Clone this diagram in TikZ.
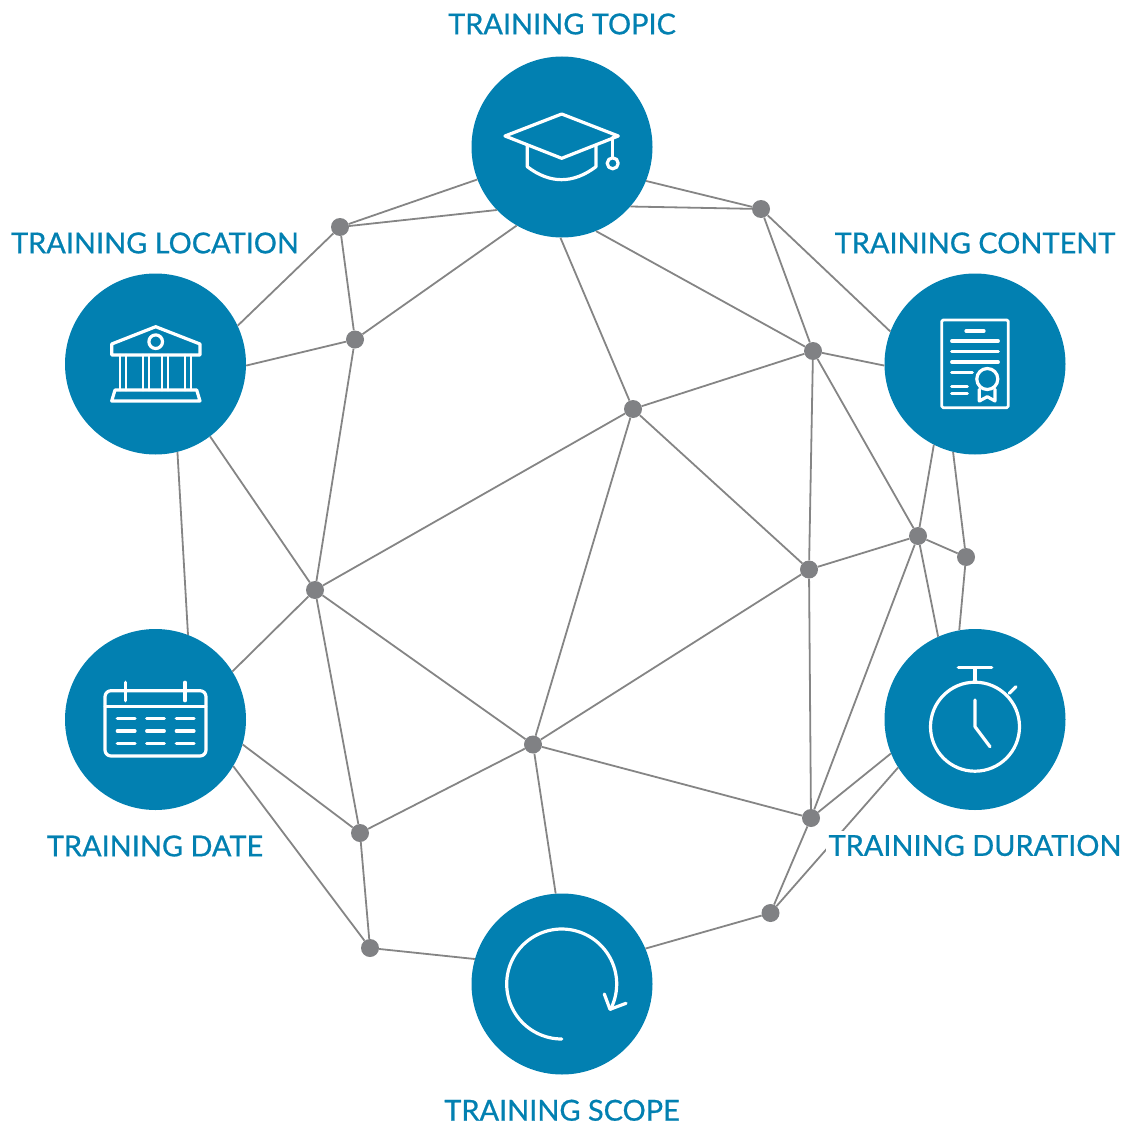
\documentclass[tikz,border=0pt]{standalone}
\usepackage{fontspec}
\setmainfont{Lato}
\newfontfamily\labfont[FakeBold=0.7]{Lato}
\definecolor{tblue}{HTML}{0280B1}
\definecolor{edgegray}{HTML}{858585}
\definecolor{dotgray}{HTML}{808184}
\tikzset{
  hub/.style={circle,fill=tblue,draw=none,minimum size=181pt,inner sep=0pt},
  dot/.style={circle,fill=dotgray,draw=none,minimum size=18pt,inner sep=0pt},
  edge/.style={draw=edgegray,line width=1.8pt},
  icon/.style={draw=white,line width=3.2pt,line cap=round,line join=round},
  thin icon/.style={icon,line width=2.8pt},
  lab/.style={text=tblue,font=\labfont\fontsize{28.9}{30}\selectfont,inner sep=0pt},
}
\begin{document}
\begin{tikzpicture}[x=1pt,y=-1pt]
\useasboundingbox (0,0) rectangle (1133,1124);
% hubs
\node[hub] (T) at (562,147) {};
\node[hub] (C) at (975,364) {};
\node[hub] (L) at (155.5,364) {};
\node[hub] (D) at (155.5,719.5) {};
\node[hub] (U) at (975,719.5) {};
\node[hub] (S) at (562,984) {};
% dots
\node[dot] (a) at (340,227) {};
\node[dot] (b) at (355,339.5) {};
\node[dot] (c) at (761,209) {};
\node[dot] (d) at (813,351) {};
\node[dot] (e) at (633,409) {};
\node[dot] (f) at (918,536) {};
\node[dot] (g) at (966,557) {};
\node[dot] (h) at (809,569.5) {};
\node[dot] (i) at (315,590) {};
\node[dot] (j) at (533,744.5) {};
\node[dot] (k) at (811,818) {};
\node[dot] (l) at (360,833) {};
\node[dot] (m) at (770.5,913) {};
\node[dot] (n) at (370,948) {};
% edges
\draw[edge] (a) -- (T.201.8);
\draw[edge] (a) -- (T.224.5);
\draw[edge] (a) -- (L.25.4);
\draw[edge] (a) -- (b);
\draw[edge] (b) -- (T.240.9);
\draw[edge] (b) -- (L.-1.9);
\draw[edge] (b) -- (i);
\draw[edge] (c) -- (T.-22.9);
\draw[edge] (c) -- (T.-41.4);
\draw[edge] (c) -- (C.159.2);
\draw[edge] (c) -- (d);
\draw[edge] (d) -- (T.-68.9);
\draw[edge] (d) -- (C.181.9);
\draw[edge] (d) -- (e);
\draw[edge] (d) -- (h);
\draw[edge] (d) -- (f);
\draw[edge] (e) -- (T.269.4);
\draw[edge] (e) -- (i);
\draw[edge] (e) -- (j);
\draw[edge] (e) -- (h);
\draw[edge] (f) -- (C.243.7);
\draw[edge] (g) -- (C.256.9);
\draw[edge] (f) -- (g);
\draw[edge] (f) -- (h);
\draw[edge] (f) -- (k);
\draw[edge] (f) -- (U.114.3);
\draw[edge] (g) -- (U.100.9);
\draw[edge] (h) -- (j);
\draw[edge] (h) -- (k);
\draw[edge] (i) -- (L.-53.1);
\draw[edge] (i) -- (D.32.8);
\draw[edge] (i) -- (j);
\draw[edge] (i) -- (l);
\draw[edge] (L.-76.1) -- (D.69.4);
\draw[edge] (j) -- (k);
\draw[edge] (j) -- (l);
\draw[edge] (j) -- (S.94.4);
\draw[edge] (k) -- (U.202);
\draw[edge] (k) -- (m);
\draw[edge] (l) -- (D.-16);
\draw[edge] (l) -- (n);
\draw[edge] (n) -- (D.-31.6);
\draw[edge] (n) -- (S.164.6);
\draw[edge] (m) -- (S.23.4);
\draw[edge] (m) -- (U.212.5);
% labels
\node[lab] (lt) at (562,24) {TRAINING TOPIC};
\node[lab] (lc) at (975,243) {TRAINING CONTENT};
\node[lab] (ll) at (155,243) {TRAINING LOCATION};
\node[lab] (ld) at (155,846) {TRAINING DATE};
\node[lab,fill=white,minimum height=29pt,inner xsep=3pt] (lu) at (975,845.5) {TRAINING DURATION};
\node[lab] (ls) at (562,1110.3) {TRAINING SCOPE};
% icon: cap
\draw[icon] (561.7,114) -- (505,136) -- (561.7,158.3) -- (618.3,136) -- cycle;
\draw[icon] (527.3,145) -- (527.3,166.7) .. controls (550,184) and (573,184) .. (596,166.7) -- (596,145);
\draw[icon] (612.7,137.3) -- (612.7,157.3);
\draw[icon] (612.7,163.3) circle[radius=5.5];
% icon: certificate
\draw[thin icon,rounded corners=1.5pt] (941.7,320) rectangle (1008.3,407.7);
\draw[icon] (966,331) -- (984,331);
\draw[icon] (951.7,341) -- (998.3,341);
\draw[icon] (951.7,351.7) -- (998.3,351.7);
\draw[icon] (951.7,362) -- (998.3,362);
\draw[icon] (951.7,372.3) -- (972.3,372.3);
\draw[icon] (951.7,386.7) -- (967.3,386.7);
\draw[icon] (951.7,393.3) -- (967.3,393.3);
\draw[icon] (987.3,379) circle[radius=10.5];
\draw[icon] (979.3,389.3) -- (979.3,401) -- (987.3,396.7) -- (995,401) -- (995,389.3);
% icon: bank
\draw[icon] (111.7,344) -- (155.7,326.7) -- (200,344) -- (200,355) -- (111.7,355) -- cycle;
\draw[icon] (155.7,341.7) circle[radius=6.8];
\foreach \cx in {120,126,143,149,162,168,185,191}{\draw[thin icon] (\cx,355) -- (\cx,390);}
\draw[icon] (115,390) -- (196.7,390) -- (200,401) -- (111.7,401) -- cycle;
% icon: calendar
\draw[icon,rounded corners=6pt] (105,690.7) rectangle (206,756);
\draw[thin icon] (105,706.7) -- (206,706.7);
\draw[icon] (125.7,682.3) -- (125.7,700.7);
\draw[icon] (185,682.3) -- (185,700.7);
\foreach \ry in {718.3,731,743.7}{
  \draw[icon] (117.3,\ry) -- (135,\ry);
  \draw[icon] (146.7,\ry) -- (164.3,\ry);
  \draw[icon] (176.3,\ry) -- (194,\ry);
}
% icon: stopwatch
\draw[icon] (975,726.7) circle[radius=44.5];
\draw[icon] (958.3,667.7) -- (991.7,667.7);
\draw[icon] (975,667.7) -- (975,681.7);
\draw[icon] (1009.3,693.3) -- (1016,686.7);
\draw[icon] (975,700) -- (975,726.7) -- (990,746.7);
% icon: cycle arrow
\draw[icon] plot[domain=90:387.6,samples=90,smooth] ({561.7+55*cos(\x)},{984+55*sin(\x)});
\draw[icon] (604.3,994) -- (610,1009.3) -- (626,1003.3);
\end{tikzpicture}
\end{document}
